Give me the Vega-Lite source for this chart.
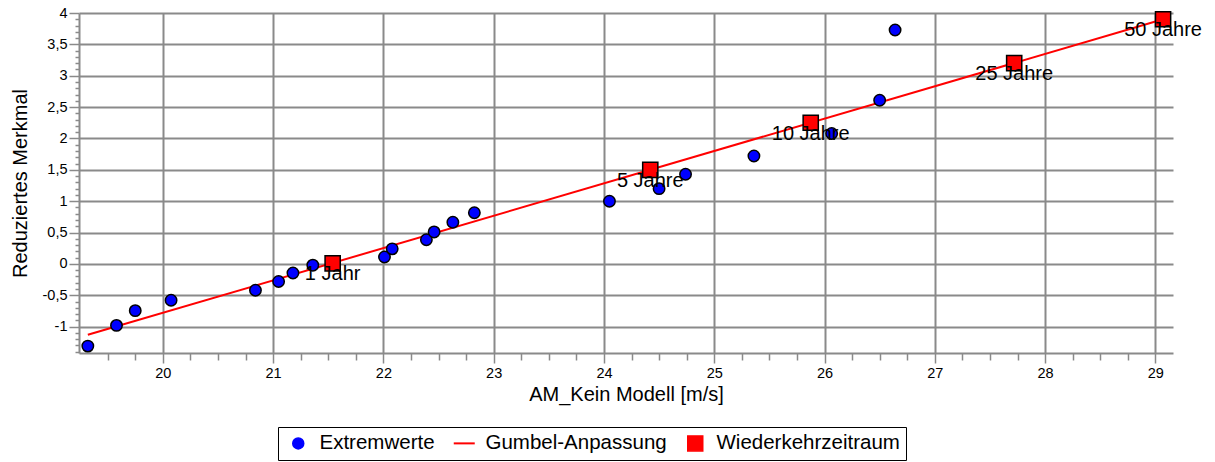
{
  "$schema": "https://vega.github.io/schema/vega-lite/v6.json",
  "width": 1094,
  "height": 340,
  "autosize": {"type": "none"},
  "padding": {"left": 79, "top": 13, "right": 42, "bottom": 109},
  "background": "white",
  "config": {
    "font": "Liberation Sans",
    "view": {"stroke": null},
    "axis": {
      "domainColor": "#8a8a8a",
      "domainWidth": 2,
      "gridColor": "#8a8a8a",
      "gridWidth": 2,
      "tickColor": "#8a8a8a",
      "tickWidth": 1.5,
      "labelColor": "#000000",
      "labelFont": "Liberation Sans",
      "labelFontSize": 14.5,
      "labelOverlap": false,
      "labelFlush": false,
      "labelBound": false,
      "titleColor": "#000000",
      "titleFont": "Liberation Sans",
      "titleFontSize": 20,
      "titleFontWeight": "normal"
    },
    "legend": {
      "labelFont": "Liberation Sans",
      "labelFontSize": 20.5,
      "labelColor": "#000000",
      "labelLimit": 0
    }
  },
  "data": {
    "values": [
      {"Reihe": "Extremwerte", "x": 19.32, "y": -1.31},
      {"Reihe": "Extremwerte", "x": 19.58, "y": -0.98},
      {"Reihe": "Extremwerte", "x": 19.75, "y": -0.745},
      {"Reihe": "Extremwerte", "x": 20.075, "y": -0.58},
      {"Reihe": "Extremwerte", "x": 20.84, "y": -0.42},
      {"Reihe": "Extremwerte", "x": 21.05, "y": -0.28},
      {"Reihe": "Extremwerte", "x": 21.18, "y": -0.145},
      {"Reihe": "Extremwerte", "x": 21.36, "y": -0.02},
      {"Reihe": "Extremwerte", "x": 22.01, "y": 0.11},
      {"Reihe": "Extremwerte", "x": 22.08, "y": 0.24},
      {"Reihe": "Extremwerte", "x": 22.39, "y": 0.385},
      {"Reihe": "Extremwerte", "x": 22.46, "y": 0.51},
      {"Reihe": "Extremwerte", "x": 22.63, "y": 0.665},
      {"Reihe": "Extremwerte", "x": 22.825, "y": 0.815},
      {"Reihe": "Extremwerte", "x": 24.05, "y": 1.0},
      {"Reihe": "Extremwerte", "x": 24.5, "y": 1.2},
      {"Reihe": "Extremwerte", "x": 24.74, "y": 1.43},
      {"Reihe": "Extremwerte", "x": 25.36, "y": 1.72},
      {"Reihe": "Extremwerte", "x": 26.065, "y": 2.08},
      {"Reihe": "Extremwerte", "x": 26.5, "y": 2.61},
      {"Reihe": "Extremwerte", "x": 26.64, "y": 3.73},
      {"Reihe": "Gumbel-Anpassung", "x": 19.32, "y": -1.13},
      {"Reihe": "Gumbel-Anpassung", "x": 29.07, "y": 3.9},
      {"Reihe": "Wiederkehrzeitraum", "x": 21.54, "y": 0.01, "Label": "1 Jahr"},
      {"Reihe": "Wiederkehrzeitraum", "x": 24.42, "y": 1.5, "Label": "5 Jahre"},
      {"Reihe": "Wiederkehrzeitraum", "x": 25.875, "y": 2.25, "Label": "10 Jahre"},
      {"Reihe": "Wiederkehrzeitraum", "x": 27.72, "y": 3.2, "Label": "25 Jahre"},
      {"Reihe": "Wiederkehrzeitraum", "x": 29.07, "y": 3.9, "Label": "50 Jahre"}
    ]
  },
  "encoding": {
    "x": {
      "field": "x",
      "type": "quantitative",
      "title": "AM_Kein Modell [m/s]",
      "scale": {"domain": [19.24, 29.16], "nice": false, "zero": false},
      "axis": {
        "values": [19.5, 19.75, 20, 20.25, 20.5, 20.75, 21, 21.25, 21.5, 21.75, 22, 22.25, 22.5, 22.75, 23, 23.25, 23.5, 23.75, 24, 24.25, 24.5, 24.75, 25, 25.25, 25.5, 25.75, 26, 26.25, 26.5, 26.75, 27, 27.25, 27.5, 27.75, 28, 28.25, 28.5, 28.75, 29],
        "labelExpr": "abs(datum.value - round(datum.value)) < 0.000001 ? toString(datum.value) : ''",
        "tickSize": {"condition": {"test": "abs(datum.value - round(datum.value)) < 0.000001", "value": 10}, "value": 7},
        "gridOpacity": {"condition": {"test": "abs(datum.value - round(datum.value)) < 0.000001", "value": 1}, "value": 0},
        "labelPadding": 3,
        "titlePadding": 5
      }
    },
    "y": {
      "field": "y",
      "type": "quantitative",
      "title": "Reduziertes Merkmal",
      "scale": {"domain": [-1.42, 4], "nice": false, "zero": false},
      "axis": {
        "values": [-1.4, -1.3, -1.2, -1.1, -1, -0.9, -0.8, -0.7, -0.6, -0.5, -0.4, -0.3, -0.2, -0.1, 0, 0.1, 0.2, 0.3, 0.4, 0.5, 0.6, 0.7, 0.8, 0.9, 1, 1.1, 1.2, 1.3, 1.4, 1.5, 1.6, 1.7, 1.8, 1.9, 2, 2.1, 2.2, 2.3, 2.4, 2.5, 2.6, 2.7, 2.8, 2.9, 3, 3.1, 3.2, 3.3, 3.4, 3.5, 3.6, 3.7, 3.8, 3.9, 4],
        "labelExpr": "abs(datum.value * 2 - round(datum.value * 2)) < 0.000001 ? replace(toString(datum.value), '.', ',') : ''",
        "tickSize": {"condition": {"test": "abs(datum.value * 2 - round(datum.value * 2)) < 0.000001", "value": 10}, "value": 4},
        "gridOpacity": {"condition": {"test": "abs(datum.value * 2 - round(datum.value * 2)) < 0.000001", "value": 1}, "value": 0},
        "labelPadding": 2,
        "titlePadding": 12
      }
    }
  },
  "layer": [
    {
      "transform": [{"filter": "datum.Reihe === 'Gumbel-Anpassung'"}],
      "mark": {"type": "line", "strokeWidth": 2},
      "encoding": {
        "color": {
          "field": "Reihe",
          "type": "nominal",
          "scale": {"domain": ["Extremwerte", "Gumbel-Anpassung", "Wiederkehrzeitraum"], "range": ["#0000ff", "#ff0000", "#ff0000"]},
          "legend": {
            "title": null,
            "orient": "none",
            "direction": "horizontal",
            "legendX": 199,
            "legendY": 414,
            "strokeColor": "#000000",
            "padding": 6,
            "columnPadding": 14,
            "labelOffset": 11,
            "symbolOffset": 4,
            "symbolSize": 225,
            "symbolStrokeColor": "#000000",
            "symbolStrokeWidth": 1.5,
            "labelLimit": 0,
            "encode": {
              "symbols": {
                "update": {
                  "fill": {"signal": "datum.value === 'Extremwerte' ? '#0000ff' : datum.value === 'Gumbel-Anpassung' ? 'transparent' : '#ff0000'"},
                  "stroke": {"signal": "datum.value === 'Gumbel-Anpassung' ? '#ff0000' : '#000000'"},
                  "strokeWidth": {"signal": "datum.value === 'Gumbel-Anpassung' ? 2 : 1.5"},
                  "size": {"signal": "datum.value === 'Extremwerte' ? 121 : datum.value === 'Gumbel-Anpassung' ? 441 : 225"}
                }
              }
            }
          }
        },
        "order": {"field": "x", "type": "quantitative"}
      }
    },
    {
      "transform": [{"filter": "datum.Reihe === 'Extremwerte'"}],
      "mark": {"type": "point", "filled": true, "stroke": "#000000", "strokeWidth": 1.5, "size": 130, "opacity": 1},
      "encoding": {
        "color": {"field": "Reihe", "type": "nominal"},
        "shape": {
          "field": "Reihe",
          "type": "nominal",
          "scale": {"domain": ["Extremwerte", "Gumbel-Anpassung", "Wiederkehrzeitraum"], "range": ["circle", "stroke", "square"]}
        }
      }
    },
    {
      "transform": [{"filter": "datum.Reihe === 'Wiederkehrzeitraum'"}],
      "mark": {"type": "point", "filled": true, "stroke": "#000000", "strokeWidth": 1.5, "size": 230, "opacity": 1},
      "encoding": {
        "color": {"field": "Reihe", "type": "nominal"},
        "shape": {"field": "Reihe", "type": "nominal"}
      }
    },
    {
      "transform": [{"filter": "datum.Reihe === 'Wiederkehrzeitraum'"}],
      "mark": {"type": "text", "fontSize": 20, "font": "Liberation Sans", "color": "#000000", "align": "center", "baseline": "middle", "dy": 11},
      "encoding": {
        "text": {"field": "Label", "type": "nominal"}
      }
    }
  ]
}
